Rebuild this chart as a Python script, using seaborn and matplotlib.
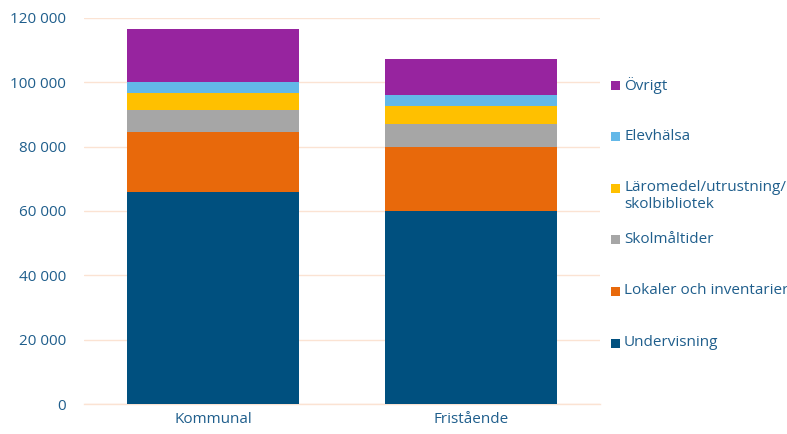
import numpy as np
import pandas as pd
import matplotlib
matplotlib.use("Agg")
import matplotlib.pyplot as plt
import seaborn as sns
from matplotlib.patches import Rectangle
from matplotlib.ticker import FuncFormatter, FixedLocator

# data (kronor per elev)
huvudman = ["Kommunal", "Fristående"]
kategorier = ["Undervisning", "Lokaler och inventarier", "Skolmåltider",
              "Läromedel/utrustning/\nskolbibliotek", "Elevhälsa", "Övrigt"]
undervisning = [65900, 60000]
lokaler = [18700, 20000]
skolmaltider = [6700, 7200]
laromedel = [5300, 5300]
elevhalsa = [3500, 3500]
ovrigt = [16500, 11200]
farger = ["#00507F", "#E8690B", "#A6A6A6", "#FFC000", "#63B8E8", "#97249F"]

textfarg = "#1F5E8C"
gridfarg = "#FBE3D3"

sns.set_theme(style="white")
plt.rcParams['font.family'] = ['Open Sans', 'DejaVu Sans']

serier = [undervisning, lokaler, skolmaltider, laromedel, elevhalsa, ovrigt]
kum = np.cumsum(np.array(serier), axis=0)

fig = plt.figure(figsize=(7.87, 4.34), dpi=100)
ax = fig.add_axes([84 / 787, 1 - 404 / 434, (600 - 84) / 787, (404 - 18) / 434])

# stacked bars: draw cumulative totals from the top down
for i in range(len(kategorier) - 1, -1, -1):
    df = pd.DataFrame({"huvudman": huvudman, "varde": kum[i]})
    sns.barplot(data=df, x="huvudman", y="varde", color=farger[i],
                width=0.67, linewidth=0, saturation=1, ax=ax, zorder=3)

ax.set_ylim(0, 120000)
ax.set_xlim(-0.5, 1.5)
ax.set_yticks(np.arange(0, 120001, 20000))
ax.yaxis.set_major_formatter(FuncFormatter(lambda v, p: f"{int(v):,}".replace(",", " ")))
ax.grid(axis="y", color=gridfarg, linewidth=1, zorder=0)
ax.set_axisbelow(True)
for s in ["left", "right", "top"]:
    ax.spines[s].set_visible(False)
ax.spines["bottom"].set_color(gridfarg)
ax.spines["bottom"].set_linewidth(1)
ax.set_xlabel("")
ax.set_ylabel("")
ax.tick_params(axis="y", length=0, pad=13, labelsize=11, labelcolor=textfarg)
ax.tick_params(axis="x", which="major", length=0, pad=6, labelsize=11, labelcolor=textfarg)
ax.xaxis.set_minor_locator(FixedLocator([-0.5, 0.5, 1.5]))
ax.tick_params(axis="x", which="minor", length=5, color=gridfarg, width=1)

# legend, top entry = Övrigt
steg = (343 - 85) / 5
for j, i in enumerate(range(len(kategorier) - 1, -1, -1)):
    yc = 85 + j * steg
    fig.patches.append(Rectangle((611 / 787, 1 - (yc + 4.5) / 434), 9 / 787, 9 / 434,
                                 transform=fig.transFigure, facecolor=farger[i],
                                 edgecolor="none"))
    fig.text(624 / 787, 1 - (yc - 8) / 434, kategorier[i], fontsize=11,
             color=textfarg, va="top", ha="left", linespacing=1.2)

fig.savefig("out.png", dpi=100)
